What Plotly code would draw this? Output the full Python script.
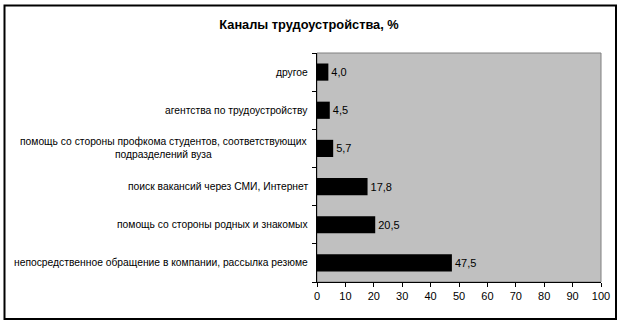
import plotly.graph_objects as go

categories = [
    "непосредственное обращение в компании, рассылка резюме",
    "помощь со стороны родных и знакомых",
    "поиск вакансий через СМИ, Интернет",
    "помощь со стороны профкома студентов, соответствующих<br>подразделений вуза",
    "агентства по трудоустройству",
    "другое",
]
values = [47.5, 20.5, 17.8, 5.7, 4.5, 4.0]
x_ticks = [0, 10, 20, 30, 40, 50, 60, 70, 80, 90, 100]
title = "Каналы трудоустройства, %"

FONT = "Liberation Sans, Arial, sans-serif"
W, H = 623, 324
L, R, T, B = 317, 22, 53, 42
pw, ph = W - L - R, H - T - B

def px_x(x):
    return (x - L) / pw

def px_y(y):
    return (H - B - y) / ph

labels_text = [f"{v:.1f}".replace(".", ",") for v in values]

fig = go.Figure()
fig.add_trace(go.Bar(
    y=list(range(len(categories))),
    x=values,
    orientation="h",
    marker=dict(color="black", line=dict(width=0)),
    text=labels_text,
    textposition="outside",
    textfont=dict(family=FONT, size=11, color="black"),
    cliponaxis=False,
    width=0.45,
    hoverinfo="skip",
))

for i, c in enumerate(categories):
    fig.add_annotation(
        x=px_x(310), xref="paper", xanchor="right",
        y=i, yref="y", yanchor="middle",
        text=c, showarrow=False, align="center",
        font=dict(family=FONT, size=10.3, color="black"),
    )

fig.update_layout(
    width=W, height=H,
    margin=dict(l=L, r=R, t=T, b=B),
    paper_bgcolor="white",
    plot_bgcolor="#C0C0C0",
    showlegend=False,
    title=dict(text="<b>" + title + "</b>", x=309 / W, xref="container", xanchor="center",
               y=1 - 25 / H, yref="container", yanchor="middle",
               font=dict(family=FONT, size=12.8, color="black")),
    xaxis=dict(range=[0, 100], tickvals=x_ticks, ticktext=[str(t) for t in x_ticks],
               showgrid=False, zeroline=False, showline=True, linecolor="black", linewidth=1,
               ticks="outside", ticklen=4, tickcolor="black",
               tickfont=dict(family=FONT, size=11, color="black"), fixedrange=True),
    yaxis=dict(range=[-0.5, len(categories) - 0.5], tickvals=[i - 0.5 for i in range(len(categories) + 1)],
               showticklabels=False, showgrid=False, zeroline=False, showline=True,
               linecolor="black", linewidth=1, ticks="outside", ticklen=4, tickcolor="black",
               fixedrange=True),
    shapes=[
        dict(type="rect", xref="paper", yref="paper", x0=0, x1=1, y0=0, y1=1,
             line=dict(color="#808080", width=1), fillcolor="rgba(0,0,0,0)", layer="below"),
        dict(type="rect", xref="paper", yref="paper",
             x0=px_x(4.5), x1=px_x(616), y0=px_y(319), y1=px_y(5.5),
             line=dict(color="black", width=2), fillcolor="rgba(0,0,0,0)"),
    ],
)

fig.write_html("out.html", config={"displayModeBar": False},
               post_script="document.body.style.margin='0';document.body.style.overflow='hidden';")
